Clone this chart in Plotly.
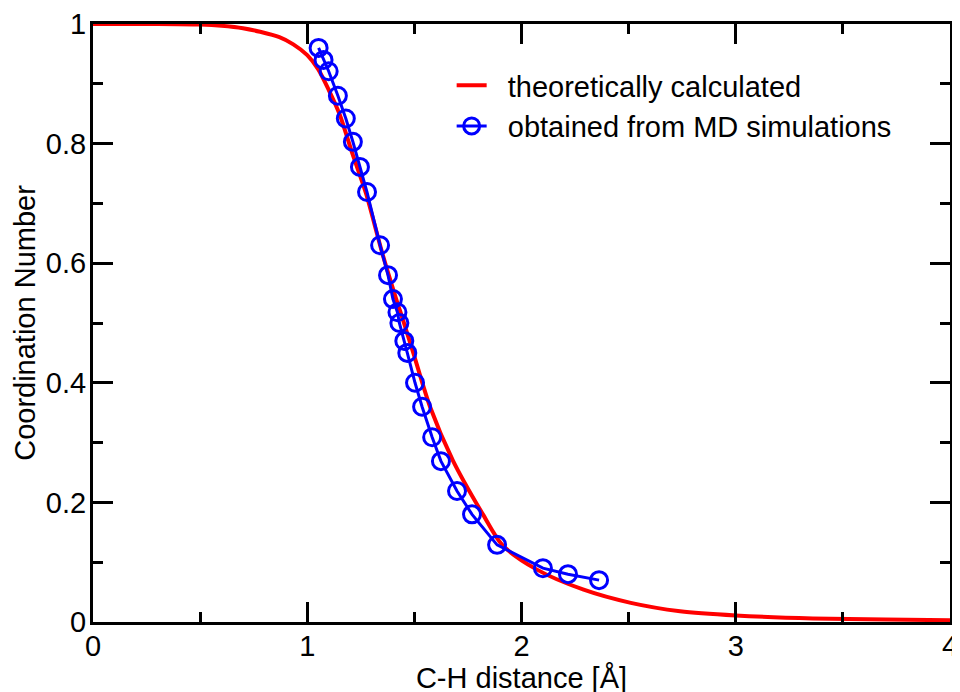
'''Coordination number vs C-H distance: theory curve and MD points.'''

import plotly.graph_objects as go

# theoretically calculated switching curve
theory_r = [0.0, 0.3, 0.5, 0.6, 0.7, 0.78, 0.87, 0.935, 1.0, 1.05, 1.1, 1.15,
            1.21, 1.274, 1.35, 1.417, 1.447, 1.495, 1.573, 1.68, 1.82, 1.91,
            2.07, 2.29, 2.51, 2.74, 3.0, 3.36, 3.7, 4.0]
theory_cn = [1.0, 1.0, 0.999, 0.997, 0.993, 0.987, 0.978, 0.966, 0.948, 0.925,
             0.89, 0.85, 0.784, 0.717, 0.617, 0.538, 0.505, 0.45, 0.36, 0.27,
             0.18, 0.129, 0.088, 0.054, 0.032, 0.018, 0.011, 0.006, 0.004, 0.003]

# values obtained from MD simulations
md_r = [1.053, 1.076, 1.10, 1.143, 1.18, 1.213, 1.246, 1.279, 1.34, 1.377,
        1.400, 1.421, 1.430, 1.453, 1.467, 1.503, 1.536, 1.583, 1.624, 1.699,
        1.769, 1.886, 2.100, 2.217, 2.362]
md_cn = [0.960, 0.940, 0.921, 0.880, 0.842, 0.803, 0.761, 0.719, 0.630, 0.580,
         0.540, 0.518, 0.500, 0.470, 0.450, 0.400, 0.360, 0.309, 0.269, 0.219,
         0.180, 0.129, 0.090, 0.080, 0.070]

FONT = 'Liberation Sans, Arial, sans-serif'
GAP = '\u00a0\u00a0'  # small gap between legend symbol and text


def axis_style(dtick, minor_dtick):
    return dict(
        showline=True, linecolor='black', linewidth=3, mirror='ticks',
        ticks='inside', ticklen=20, tickwidth=3, tickcolor='black',
        dtick=dtick, tick0=0, automargin=False,
        minor=dict(ticks='inside', ticklen=10, tickwidth=3, tickcolor='black',
                   dtick=minor_dtick, tick0=0, showgrid=False),
        showgrid=False, zeroline=False,
        tickfont=dict(family=FONT, size=29, color='black'),
    )


fig = go.Figure()
fig.add_trace(go.Scatter(
    x=theory_r, y=theory_cn, mode='lines', name=GAP + 'theoretically calculated',
    line=dict(color='#ff0000', width=4, shape='spline', smoothing=0.8),
))
fig.add_trace(go.Scatter(
    x=md_r, y=md_cn, mode='lines+markers',
    name=GAP + 'obtained from MD simulations',
    line=dict(color='#0000ff', width=3),
    marker=dict(symbol='circle-open', size=17, color='#0000ff',
                line=dict(color='#0000ff', width=3)),
))

xaxis = axis_style(1, 0.5)
xaxis.update(range=[0, 4], ticklabelstandoff=-4,
             title=dict(text='C-H distance [Å]', standoff=6,
                        font=dict(family=FONT, size=29, color='black')))
yaxis = axis_style(0.2, 0.1)
yaxis.update(range=[0, 1], ticklabelstandoff=-2,
             title=dict(text='Coordination Number', standoff=2,
                        font=dict(family=FONT, size=29, color='black')))

# the page body adds an 8px offset, so margins are shifted to compensate
fig.update_layout(
    width=960, height=692,
    margin=dict(l=85, r=18, t=16, b=78),
    paper_bgcolor='white', plot_bgcolor='white',
    xaxis=xaxis, yaxis=yaxis,
    showlegend=True,
    legend=dict(x=0.4185, y=0.94, xanchor='left', yanchor='top',
                bgcolor='rgba(0,0,0,0)', borderwidth=0,
                font=dict(family=FONT, size=29, color='black'),
                itemwidth=30, tracegroupgap=0),
)

fig.write_html('out.html')
